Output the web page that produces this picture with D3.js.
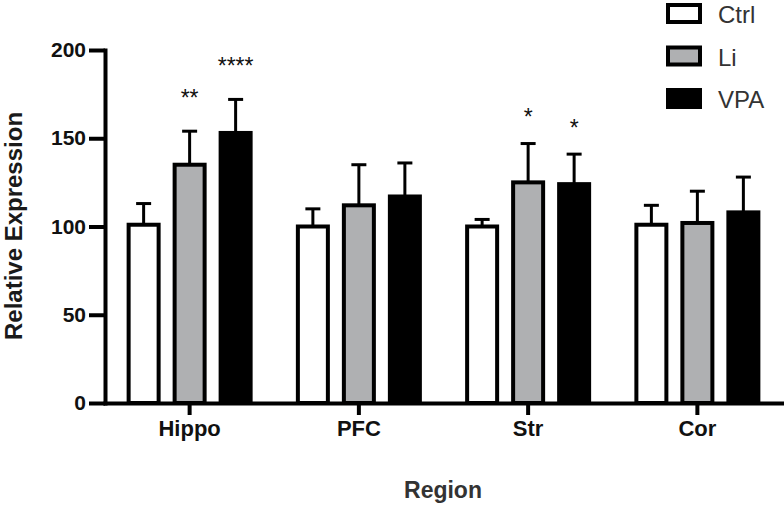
<html>
  <head>
    <meta charset="UTF-8">
    <script src="https://cdnjs.cloudflare.com/ajax/libs/d3/7.8.5/d3.min.js"></script>
    <style>
      body {
        margin: 0;
        background: white;
        font-family: 'Liberation Sans', Arial, sans-serif;
      }
      .axis text {
        font-size: 21px;
        font-weight: bold;
        fill: #111;
      }
      .x-axis text {
        font-size: 22px;
      }
      .axis path, .axis line {
        stroke: black;
        stroke-width: 4px;
      }
      .axis path {
        stroke-linecap: square;
      }
    </style>
  </head>
  <body>
    <svg id="chart"></svg>
    <script>
      const regions = ['Hippo', 'PFC', 'Str', 'Cor']
      const groups = ['Ctrl', 'Li', 'VPA']

      // mean and SEM
      const ctrlMean = [101, 100, 100, 101]
      const ctrlErr = [12, 10, 4, 11]
      const liMean = [135, 112, 125, 102]
      const liErr = [19, 23, 22, 18]
      const vpaMean = [153, 117, 124, 108]
      const vpaErr = [19, 19, 17, 20]

      // significance marks and the height (in data units) they sit at
      const liSig = ['**', '', '*', '']
      const liSigAt = [175.6, 0, 165, 0]
      const vpaSig = ['****', '', '*', '']
      const vpaSigAt = [193.8, 0, 158.6, 0]

      const yTicks = [0, 50, 100, 150, 200]

      const fills = { Ctrl: 'white', Li: '#afb0b2', VPA: 'black' }

      const width = 784
      const height = 507

      const svg = d3.select('#chart')
        .attr('width', width)
        .attr('height', height)

      const y = d3.scaleLinear().domain([0, 200]).range([403, 50])
      const x0 = d3.scaleBand().domain(regions).range([105, 782])
      const x1 = d3.scalePoint().domain(groups).range([-46, 46])

      const series = {
        Ctrl: { mean: ctrlMean, err: ctrlErr, sig: [], sigAt: [] },
        Li: { mean: liMean, err: liErr, sig: liSig, sigAt: liSigAt },
        VPA: { mean: vpaMean, err: vpaErr, sig: vpaSig, sigAt: vpaSigAt }
      }

      const rows = []
      regions.forEach((r, i) => {
        groups.forEach(g => {
          const s = series[g]
          rows.push({
            region: r, group: g, mean: s.mean[i], err: s.err[i],
            sig: s.sig[i] || '', sigAt: s.sigAt[i] || 0
          })
        })
      })

      const cx = d => x0(d.region) + x0.bandwidth() / 2 + x1(d.group)
      const barW = 30

      // error bars (upper only)
      const err = svg.append('g').selectAll('g')
        .data(rows)
        .enter().append('g')
        .attr('stroke', 'black')
        .attr('stroke-width', 3)
      err.append('line')
        .attr('x1', cx).attr('x2', cx)
        .attr('y1', d => y(d.mean)).attr('y2', d => y(d.mean + d.err))
      err.append('line')
        .attr('x1', d => cx(d) - 7.5).attr('x2', d => cx(d) + 7.5)
        .attr('y1', d => y(d.mean + d.err)).attr('y2', d => y(d.mean + d.err))

      svg.append('g').selectAll('rect')
        .data(rows)
        .enter().append('rect')
        .attr('x', d => cx(d) - barW / 2)
        .attr('width', barW)
        .attr('y', d => y(d.mean))
        .attr('height', d => y(0) - y(d.mean))
        .attr('fill', d => fills[d.group])
        .attr('stroke', 'black')
        .attr('stroke-width', 4)

      svg.append('g').selectAll('text')
        .data(rows.filter(d => d.sig))
        .enter().append('text')
        .attr('x', cx)
        .attr('y', d => y(d.sigAt) + 13)
        .attr('text-anchor', 'middle')
        .attr('font-size', 23)
        .attr('fill', '#111')
        .text(d => d.sig)

      svg.append('g')
        .attr('class', 'axis')
        .attr('transform', 'translate(105,0)')
        .call(d3.axisLeft(y).tickValues(yTicks).tickSize(16).tickSizeOuter(0).tickPadding(3))

      svg.append('g')
        .attr('class', 'axis x-axis')
        .attr('transform', 'translate(0,403)')
        .call(d3.axisBottom(x0).tickSize(12).tickSizeOuter(0).tickPadding(5))

      svg.append('text')
        .attr('transform', 'translate(22,226) rotate(-90)')
        .attr('text-anchor', 'middle')
        .attr('font-size', 24)
        .attr('font-weight', 'bold')
        .attr('fill', '#1a1a1a')
        .text('Relative Expression')

      svg.append('text')
        .attr('x', 443)
        .attr('y', 498)
        .attr('text-anchor', 'middle')
        .attr('font-size', 23)
        .attr('font-weight', 'bold')
        .attr('fill', '#333')
        .text('Region')

      const legend = svg.append('g').selectAll('g')
        .data(groups)
        .enter().append('g')
        .attr('transform', (d, i) => `translate(668, ${5 + i * 42.5})`)
      legend.append('rect')
        .attr('width', 32)
        .attr('height', 17)
        .attr('fill', d => fills[d])
        .attr('stroke', 'black')
        .attr('stroke-width', 4)
      legend.append('text')
        .attr('x', 50)
        .attr('y', 18)
        .attr('font-size', 24)
        .attr('fill', '#333')
        .text(d => d)
    </script>
  </body>
</html>
